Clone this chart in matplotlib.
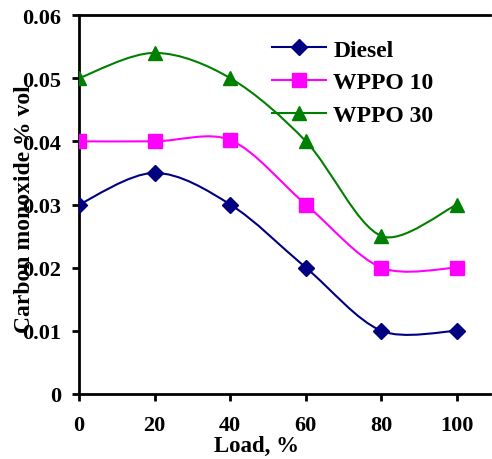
import matplotlib
matplotlib.use("Agg")
import matplotlib.pyplot as plt
import matplotlib.lines as mLines
from matplotlib.path import Path
from matplotlib.patches import PathPatch
import numpy as np

plt.rcParams['font.family'] = ['Liberation Serif', 'DejaVu Serif']
plt.rcParams['font.weight'] = 'bold'

load = [0, 20, 40, 60, 80, 100]
diesel = [0.030, 0.035, 0.030, 0.020, 0.010, 0.010]
wppo10 = [0.040, 0.040, 0.0402, 0.030, 0.020, 0.020]
wppo30 = [0.050, 0.054, 0.050, 0.040, 0.025, 0.030]

series = [
    ("Diesel", diesel, "#000080", "D", 8.5),
    ("WPPO 10", wppo10, "#FF00FF", "s", 9.5),
    ("WPPO 30", wppo30, "#008000", "^", 10.5),
]

XLIM = (0, 108.7)
YLIM = (0, 0.06)


def smoothPath(xs, ys, sx, sy, t=1/6):
    '''Excel-like smoothed line: Catmull-Rom style Beziers,
    tangents scaled by neighbouring segment lengths (in screen units)'''
    pts = np.column_stack([xs, ys]).astype(float)
    scr = pts * [sx, sy]
    n = len(pts)

    def seg(i, j):
        return np.hypot(*(scr[j] - scr[i]))

    verts = [pts[0]]
    codes = [Path.MOVETO]
    for i in range(n - 1):
        a = i - 1 if i > 0 else i
        d = i + 2 if i + 2 < n else i + 1
        d12 = seg(i, i + 1)
        f1 = t
        if i > 0:
            f1 = 2 * t * d12 / (seg(a, i) + d12)
        f2 = t
        if i + 2 < n:
            f2 = 2 * t * d12 / (d12 + seg(i + 1, d))
        c1 = pts[i] + (pts[i + 1] - pts[a]) * min(f1, t)
        c2 = pts[i + 1] - (pts[d] - pts[i]) * min(f2, t)
        verts += [c1, c2, pts[i + 1]]
        codes += [Path.CURVE4] * 3
    return Path(verts, codes)


fig = plt.figure(figsize=(4.92, 4.60), dpi=100)
axW, axH = 411, 379
ax = fig.add_axes([79 / 492, 65 / 460, axW / 492, axH / 460])
sx = axW / (XLIM[1] - XLIM[0])
sy = axH / (YLIM[1] - YLIM[0])

handles = []
for name, vals, col, mk, ms in series:
    ax.add_patch(PathPatch(smoothPath(load, vals, sx, sy), facecolor='none',
                           edgecolor=col, lw=1.5, zorder=2))
    ax.plot(load, vals, linestyle='none', marker=mk, ms=ms, color=col, zorder=3)
    handles.append(mLines.Line2D([], [], color=col, lw=1.5, marker=mk, ms=ms,
                                 label=name))

ax.set_xlim(*XLIM)
ax.set_ylim(*YLIM)
ax.set_xticks(load)
ax.set_yticks([0, 0.01, 0.02, 0.03, 0.04, 0.05, 0.06])
ax.set_yticklabels(["0", "0.01", "0.02", "0.03", "0.04", "0.05", "0.06"])

for side in ['left', 'bottom', 'top']:
    ax.spines[side].set_linewidth(2)
ax.spines['right'].set_visible(False)
ax.tick_params(axis='both', direction='out', length=5, width=2,
               labelsize=16, pad=8)
ax.tick_params(axis='x', pad=10)

ax.set_xlabel("Load, %", fontsize=16.5, fontweight='bold')
ax.set_ylabel("Carbon monoxide % vol", fontsize=17, fontweight='bold')
ax.xaxis.set_label_coords(0.433, -0.107)
ax.yaxis.set_label_coords(-0.107, 0.49)

ax.legend(handles=handles, loc='upper left', bbox_to_anchor=(272 / 492, 1 - 40 / 460),
          bbox_transform=fig.transFigure, frameon=False, fontsize=17,
          handlelength=2.3, handletextpad=0.3, labelspacing=0.47,
          borderpad=0, borderaxespad=0)

fig.savefig("out.png", dpi=100)
